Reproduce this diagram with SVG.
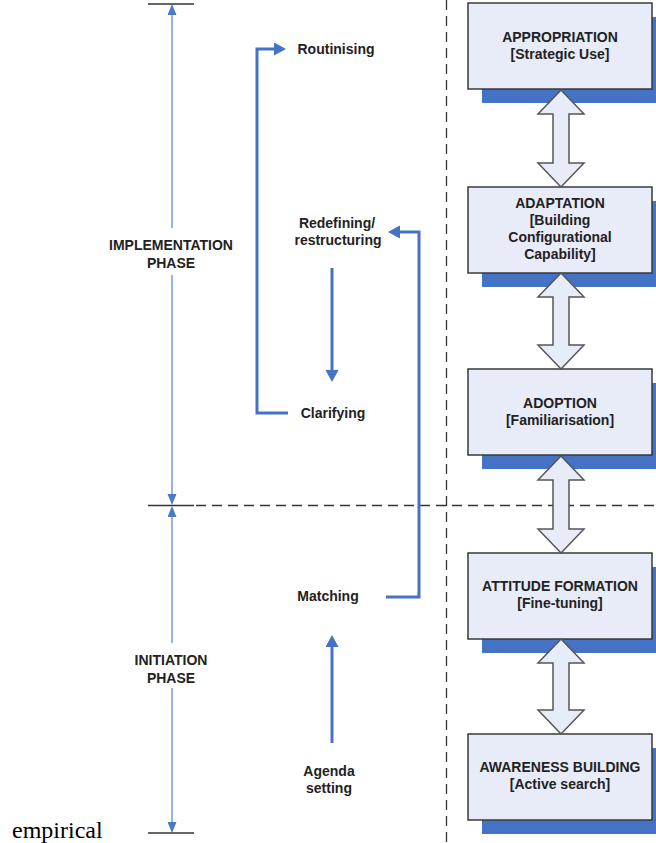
<svg xmlns="http://www.w3.org/2000/svg" width="656" height="843" viewBox="0 0 656 843">
<style>
.lbl{font-family:"Liberation Sans",Arial,sans-serif;font-weight:bold;font-size:14px;fill:#222;text-anchor:middle}
.box{fill:#E7ECF8;stroke:#3a3a3a;stroke-width:1.5}
.shd{fill:#4472C4}
.dbl{fill:#E7ECF8;stroke:#555;stroke-width:1.5;stroke-linejoin:miter}
.thick{fill:none;stroke:#4472C4;stroke-width:3}
.thin{fill:none;stroke:#6A93D4;stroke-width:1.4}
.dash{fill:none;stroke:#333;stroke-width:1.3;stroke-dasharray:10,6}
.tick{stroke:#333;stroke-width:1.5}
</style>
<defs>
<marker id="ah" markerUnits="userSpaceOnUse" markerWidth="14" markerHeight="14" refX="4" refY="6.5" orient="auto">
<path d="M0,0 L12,6.5 L0,13 Z" fill="#4472C4"/>
</marker>
<marker id="ahs" markerUnits="userSpaceOnUse" markerWidth="12" markerHeight="10" refX="3" refY="4.5" orient="auto">
<path d="M0,0 L11,4.5 L0,9 Z" fill="#4A7BCB"/>
</marker>
</defs>

<!-- guide lines -->
<g id="guides">
<line class="dash" x1="446.5" y1="0" x2="446.5" y2="843"/>
<line class="dash" x1="196" y1="505.5" x2="656" y2="505.5"/>
<line class="tick" x1="148" y1="4" x2="194" y2="4"/>
<line class="tick" x1="148" y1="505.5" x2="194" y2="505.5"/>
<line class="tick" x1="148" y1="833" x2="194" y2="833"/>
</g>

<!-- nodes -->
<g id="appropriation">
<rect class="shd" x="482" y="17" width="184" height="86"/>
<rect class="box" x="468" y="3" width="184" height="86"/>
<text class="lbl" x="560" y="42">APPROPRIATION</text>
<text class="lbl" x="560" y="59">[Strategic Use]</text>
</g>
<g id="adaptation">
<rect class="shd" x="482" y="201" width="184" height="86"/>
<rect class="box" x="468" y="187" width="184" height="86"/>
<text class="lbl" x="560" y="208">ADAPTATION</text>
<text class="lbl" x="560" y="225">[Building</text>
<text class="lbl" x="560" y="242">Configurational</text>
<text class="lbl" x="560" y="259">Capability]</text>
</g>
<g id="adoption">
<rect class="shd" x="482" y="383" width="184" height="86"/>
<rect class="box" x="468" y="369" width="184" height="86"/>
<text class="lbl" x="560" y="408">ADOPTION</text>
<text class="lbl" x="560" y="425">[Familiarisation]</text>
</g>
<g id="attitude">
<rect class="shd" x="482" y="567" width="184" height="86"/>
<rect class="box" x="468" y="553" width="184" height="86"/>
<text class="lbl" x="560" y="591">ATTITUDE FORMATION</text>
<text class="lbl" x="560" y="608">[Fine-tuning]</text>
</g>
<g id="awareness">
<rect class="shd" x="482" y="748" width="184" height="86"/>
<rect class="box" x="468" y="734" width="184" height="86"/>
<text class="lbl" x="560" y="772">AWARENESS BUILDING</text>
<text class="lbl" x="560" y="789">[Active search]</text>
</g>

<g id="routinising"><text class="lbl" x="336" y="54">Routinising</text></g>
<g id="redefining"><text class="lbl" x="337" y="228">Redefining/</text><text class="lbl" x="338" y="245">restructuring</text></g>
<g id="clarifying"><text class="lbl" x="333" y="418">Clarifying</text></g>
<g id="matching"><text class="lbl" x="328" y="601">Matching</text></g>
<g id="agenda"><text class="lbl" x="329" y="776">Agenda</text><text class="lbl" x="329" y="793">setting</text></g>

<g id="implementation"><text class="lbl" x="171" y="250">IMPLEMENTATION</text><text class="lbl" x="171" y="268">PHASE</text></g>
<g id="initiation"><text class="lbl" x="171" y="665">INITIATION</text><text class="lbl" x="171" y="683">PHASE</text></g>

<!-- connectors -->
<g id="connectors">
<polygon class="dbl" points="561,90 584,114 569,114 569,163 584,163 561,187 538,163 553,163 553,114 538,114"/>
<polygon class="dbl" points="561,273 584,297 569,297 569,345 584,345 561,369 538,345 553,345 553,297 538,297"/>
<polygon class="dbl" points="561,456 584,480 569,480 569,529 584,529 561,553 538,529 553,529 553,480 538,480"/>
<polygon class="dbl" points="561,639 584,663 569,663 569,710 584,710 561,734 538,710 553,710 553,663 538,663"/>

<path class="thick" d="M288,413 H257 V49 H278" marker-end="url(#ah)"/>
<path class="thick" d="M332,268 V374" marker-end="url(#ah)"/>
<path class="thick" d="M386,597 H419 V232 H396" marker-end="url(#ah)"/>
<path class="thick" d="M332,743 V643" marker-end="url(#ah)"/>

<path class="thin" d="M172,228 V12" marker-end="url(#ahs)"/>
<path class="thin" d="M172,275 V497" marker-end="url(#ahs)"/>
<path class="thin" d="M172,643 V514" marker-end="url(#ahs)"/>
<path class="thin" d="M172,688 V825" marker-end="url(#ahs)"/>
</g>

<text x="12" y="838" font-family="Liberation Serif,'Times New Roman',serif" font-size="24" fill="#000">empirical</text>
</svg>
